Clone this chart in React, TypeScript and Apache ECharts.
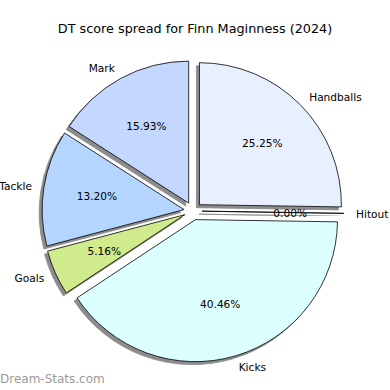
import React, { useEffect, useRef } from "react";
import * as echarts from "echarts";

const titleText = "DT score spread for Finn Maginness (2024)";
const categories = ["Handballs", "Hitout", "Kicks", "Goals", "Tackle", "Mark"];
const values = [25.25, 0, 40.46, 5.16, 13.2, 15.93];
const colors = ["#e8efff", "#d8d8d8", "#dcffff", "#d0eb8c", "#b4d5ff", "#c4d8ff"];
const watermark = "Dream-Stats.com";

const FONT = "DejaVu Sans";

export default function App() {
  const ref = useRef<HTMLDivElement>(null);
  useEffect(() => {
    if (!ref.current) return;
    const chart = echarts.init(ref.current, undefined, { renderer: "svg" });
    const center = [193, 211];
    const radius = 142;
    const offset = 9;
    const total = values.reduce((a, b) => a + b, 0);
    const mainData = categories.map((name, i) => ({
      name,
      value: values[i],
      selected: true,
      itemStyle: { color: colors[i] },
    }));
    const pctData = categories.map((name, i) => ({
      name,
      value: values[i],
      selected: true,
    }));
    chart.setOption({
      animation: false,
      backgroundColor: "#ffffff",
      title: {
        text: titleText,
        left: "center",
        top: 17,
        textStyle: { fontFamily: FONT, fontSize: 12.8, fontWeight: "normal", color: "#000" },
      },
      graphic: [
        {
          type: "text",
          left: 0,
          top: 373,
          style: { text: watermark, fontFamily: FONT, fontSize: 12, fill: "#9a9a9a" },
        },
      ],
      series: [
        {
          type: "pie",
          center,
          radius,
          startAngle: 90,
          clockwise: true,
          selectedMode: "multiple",
          selectedOffset: offset,
          avoidLabelOverlap: false,
          silent: true,
          percentPrecision: 2,
          emphasis: { disabled: true },
          itemStyle: {
            borderColor: "#000",
            borderWidth: 0.8,
            shadowColor: "rgba(0,0,0,0.45)",
            shadowBlur: 0.5,
            shadowOffsetX: -3,
            shadowOffsetY: 3,
          },
          label: {
            show: true,
            position: "outside",
            formatter: "{b}",
            fontFamily: FONT,
            fontSize: 10.6,
            color: "#000",
            distanceToLabelLine: 0,
          },
          labelLine: { show: false, length: 12, length2: 0 },
          data: mainData,
        },
        {
          type: "pie",
          center,
          radius: radius * 1.2,
          startAngle: 90,
          clockwise: true,
          selectedMode: "multiple",
          selectedOffset: offset,
          avoidLabelOverlap: false,
          silent: true,
          percentPrecision: 2,
          emphasis: { disabled: true },
          itemStyle: { color: "rgba(0,0,0,0)", borderWidth: 0 },
          label: {
            show: true,
            position: "inside",
            formatter: (p: any) => ((p.value / total) * 100).toFixed(2) + "%",
            fontFamily: FONT,
            fontSize: 10.6,
            color: "#000",
          },
          labelLine: { show: false },
          data: pctData,
        },
      ],
    });
    return () => chart.dispose();
  }, []);
  return (
    <div
      ref={ref}
      style={{ position: "fixed", left: 0, top: 0, width: 390, height: 390 }}
    />
  );
}
